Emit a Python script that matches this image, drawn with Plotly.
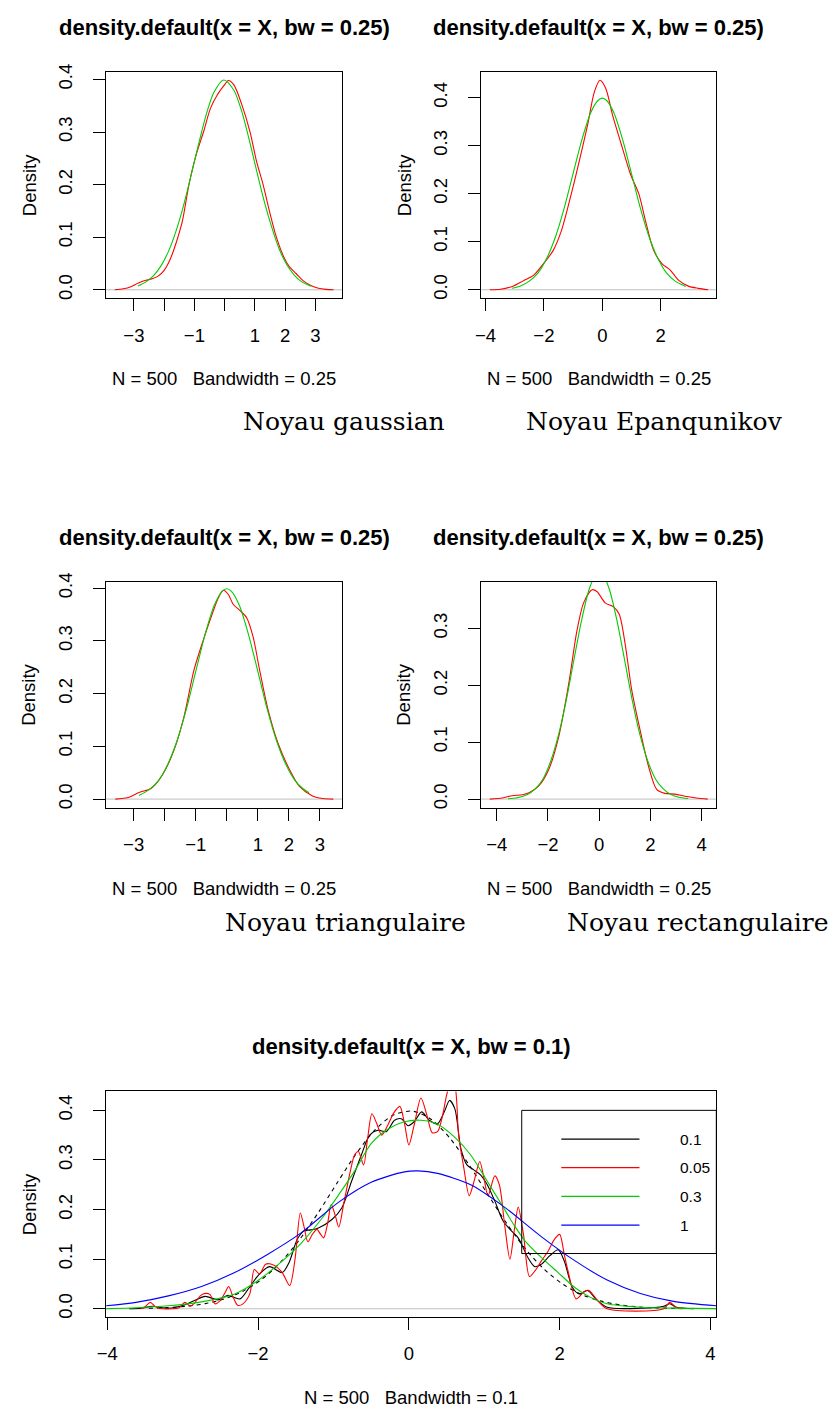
import plotly.graph_objects as go

# ---------------- data ----------------
# Panel 1 : gaussian kernel (red) and normal density (green)
p1_red_x = [-3.63, -3.35, -3.1, -2.85, -2.6, -2.4, -2.2, -2.0, -1.8, -1.6, -1.4, -1.18, -0.95, -0.7, -0.47, -0.25, 0.0, 0.12, 0.3, 0.55, 0.84, 1.05, 1.27, 1.5, 1.71, 1.95, 2.15, 2.36, 2.6, 2.85, 3.1, 3.35, 3.6]
p1_red_y = [0.0, 0.002, 0.006, 0.013, 0.018, 0.021, 0.026, 0.037, 0.058, 0.09, 0.13, 0.2, 0.255, 0.3, 0.345, 0.37, 0.39, 0.398, 0.39, 0.355, 0.3, 0.245, 0.2, 0.145, 0.1, 0.063, 0.043, 0.031, 0.017, 0.008, 0.003, 0.0008, 0.0]
p1_green_x = [-2.87, -2.6, -2.35, -2.1, -1.85, -1.6, -1.35, -1.1, -0.85, -0.6, -0.35, -0.03, 0.3, 0.55, 0.8, 1.05, 1.3, 1.55, 1.8, 2.05, 2.3, 2.55, 2.85]
p1_green_y = [0.007, 0.015, 0.027, 0.046, 0.074, 0.113, 0.162, 0.22, 0.28, 0.335, 0.376, 0.399, 0.38, 0.342, 0.288, 0.228, 0.17, 0.12, 0.078, 0.048, 0.028, 0.015, 0.007]

# Panel 2 : Epanechnikov kernel
p2_red_x = [-3.85, -3.49, -3.04, -2.7, -2.36, -2.02, -1.68, -1.4, -1.06, -0.78, -0.5, -0.27, -0.08, 0.12, 0.35, 0.69, 0.97, 1.25, 1.48, 1.76, 2.05, 2.33, 2.61, 2.95, 3.29, 3.63]
p2_red_y = [0.0, 0.001, 0.008, 0.019, 0.03, 0.054, 0.082, 0.123, 0.2, 0.27, 0.344, 0.412, 0.436, 0.419, 0.364, 0.295, 0.24, 0.2, 0.144, 0.082, 0.054, 0.041, 0.02, 0.0076, 0.003, 0.0]
p2_green_x = [-3.1, -2.8, -2.5, -2.2, -1.9, -1.6, -1.3, -1.0, -0.7, -0.4, -0.15, 0.0, 0.15, 0.4, 0.7, 1.0, 1.3, 1.6, 1.9, 2.2, 2.5, 2.86]
p2_green_y = [0.003, 0.008, 0.018, 0.035, 0.066, 0.111, 0.171, 0.242, 0.312, 0.368, 0.394, 0.399, 0.394, 0.368, 0.312, 0.242, 0.171, 0.111, 0.066, 0.035, 0.018, 0.007]

# Panel 3 : triangular kernel
p3_red_x = [-3.59, -3.18, -2.81, -2.44, -2.07, -1.7, -1.38, -1.06, -0.8, -0.53, -0.27, -0.11, 0.05, 0.21, 0.42, 0.64, 0.85, 1.06, 1.33, 1.65, 2.02, 2.34, 2.76, 3.08, 3.43]
p3_red_y = [0.0, 0.003, 0.013, 0.02, 0.046, 0.093, 0.156, 0.244, 0.294, 0.341, 0.382, 0.396, 0.388, 0.369, 0.358, 0.344, 0.307, 0.244, 0.169, 0.106, 0.056, 0.024, 0.006, 0.001, 0.0]
p3_green_x = [-2.83, -2.5, -2.2, -1.9, -1.6, -1.3, -1.0, -0.7, -0.4, -0.15, 0.0, 0.15, 0.4, 0.7, 1.0, 1.3, 1.6, 1.9, 2.2, 2.45, 2.65]
p3_green_y = [0.007, 0.018, 0.035, 0.066, 0.111, 0.171, 0.242, 0.312, 0.368, 0.394, 0.399, 0.394, 0.368, 0.312, 0.242, 0.171, 0.111, 0.066, 0.035, 0.02, 0.012]

# Panel 4 : rectangular kernel
p4_red_x = [-4.27, -3.78, -3.39, -3.0, -2.74, -2.36, -1.97, -1.58, -1.19, -0.87, -0.61, -0.28, -0.09, 0.23, 0.56, 0.78, 1.01, 1.27, 1.59, 1.92, 2.24, 2.56, 2.95, 3.34, 3.79, 4.23]
p4_red_y = [0.0, 0.002, 0.006, 0.0076, 0.011, 0.023, 0.052, 0.11, 0.203, 0.296, 0.345, 0.368, 0.365, 0.345, 0.338, 0.325, 0.273, 0.191, 0.122, 0.058, 0.017, 0.01, 0.0087, 0.005, 0.002, 0.0]
p4_green_x = [-3.56, -3.2, -2.8, -2.5, -2.2, -1.9, -1.6, -1.3, -1.0, -0.7, -0.4, -0.15, 0.0, 0.15, 0.4, 0.7, 1.0, 1.3, 1.6, 1.9, 2.2, 2.5, 2.8, 3.1, 3.47]
p4_green_y = [0.0007, 0.0024, 0.008, 0.018, 0.035, 0.066, 0.111, 0.171, 0.242, 0.312, 0.368, 0.394, 0.399, 0.394, 0.368, 0.312, 0.242, 0.171, 0.111, 0.066, 0.035, 0.018, 0.008, 0.0033, 0.001]

# Panel 5 : several bandwidths
p5_bw01_x = [-3.71, -3.55, -3.4, -3.19, -2.97, -2.85, -2.7, -2.53, -2.4, -2.24, -2.13, -2.0, -1.85, -1.68, -1.59, -1.48, -1.39, -1.3, -1.2, -1.02, -0.89, -0.76, -0.63, -0.52, -0.41, -0.3, -0.19, -0.1, -0.01, 0.07, 0.17, 0.27, 0.38, 0.47, 0.54, 0.61, 0.69, 0.77, 0.86, 0.95, 1.04, 1.14, 1.25, 1.36, 1.45, 1.58, 1.67, 1.76, 1.87, 1.98, 2.06, 2.17, 2.26, 2.37, 2.48, 2.63, 3.07, 3.38, 3.46, 3.55, 3.78]
p5_bw01_y = [0.0, 0.001, 0.005, 0.001, 0.008, 0.016, 0.025, 0.018, 0.027, 0.02, 0.04, 0.067, 0.085, 0.073, 0.093, 0.14, 0.157, 0.159, 0.163, 0.18, 0.203, 0.257, 0.31, 0.35, 0.36, 0.357, 0.38, 0.383, 0.369, 0.377, 0.397, 0.38, 0.373, 0.397, 0.42, 0.403, 0.323, 0.29, 0.28, 0.27, 0.25, 0.217, 0.177, 0.157, 0.143, 0.103, 0.085, 0.09, 0.107, 0.119, 0.097, 0.043, 0.03, 0.037, 0.02, 0.003, 0.001, 0.005, 0.01, 0.003, 0.0]
p5_bw005_x = [-3.56, -3.5, -3.43, -3.36, -3.3, -3.15, -3.05, -2.97, -2.9, -2.84, -2.76, -2.7, -2.64, -2.57, -2.5, -2.43, -2.39, -2.33, -2.27, -2.2, -2.11, -2.05, -1.98, -1.9, -1.79, -1.68, -1.58, -1.51, -1.44, -1.39, -1.34, -1.28, -1.22, -1.17, -1.13, -1.08, -1.03, -0.98, -0.93, -0.86, -0.78, -0.72, -0.67, -0.6, -0.55, -0.49, -0.43, -0.36, -0.28, -0.2, -0.12, -0.06, 0.0, 0.07, 0.16, 0.24, 0.31, 0.38, 0.44, 0.5, 0.55, 0.6, 0.66, 0.73, 0.8, 0.87, 0.94, 1.0, 1.05, 1.14, 1.2, 1.27, 1.34, 1.4, 1.45, 1.52, 1.6, 1.68, 1.76, 1.85, 1.93, 2.0, 2.06, 2.11, 2.22, 2.33, 2.39, 2.5, 2.63, 3.38, 3.46, 3.55, 3.63]
p5_bw005_y = [0.0, 0.004, 0.013, 0.004, 0.0005, 0.0, 0.002, 0.013, 0.005, 0.012, 0.027, 0.031, 0.029, 0.01, 0.017, 0.035, 0.045, 0.023, 0.007, 0.01, 0.03, 0.079, 0.07, 0.09, 0.088, 0.073, 0.047, 0.1, 0.193, 0.165, 0.135, 0.15, 0.16, 0.15, 0.143, 0.17, 0.21, 0.19, 0.165, 0.215, 0.275, 0.31, 0.317, 0.29, 0.34, 0.393, 0.375, 0.35, 0.37, 0.395, 0.408, 0.375, 0.33, 0.37, 0.425, 0.39, 0.355, 0.357, 0.385, 0.43, 0.455, 0.455, 0.35, 0.283, 0.228, 0.26, 0.297, 0.26, 0.228, 0.268, 0.25, 0.17, 0.1, 0.16, 0.205, 0.15, 0.065, 0.078, 0.097, 0.117, 0.14, 0.15, 0.11, 0.077, 0.02, 0.035, 0.037, 0.017, 0.0, 0.0, 0.013, 0.002, 0.0]
p5_bw03_x = [-4.02, -3.62, -3.19, -2.75, -2.31, -2.09, -1.87, -1.65, -1.43, -1.15, -0.93, -0.71, -0.5, -0.28, -0.06, 0.16, 0.38, 0.6, 0.82, 1.04, 1.25, 1.39, 1.54, 1.76, 1.98, 2.2, 2.41, 2.63, 3.07, 3.51, 4.08]
p5_bw03_y = [0.0003, 0.002, 0.006, 0.014, 0.03, 0.048, 0.072, 0.1, 0.132, 0.183, 0.23, 0.28, 0.333, 0.362, 0.377, 0.38, 0.372, 0.347, 0.31, 0.257, 0.205, 0.17, 0.137, 0.103, 0.073, 0.043, 0.023, 0.01, 0.003, 0.0013, 0.0003]
p5_bw1_x = [-4.02, -3.62, -3.19, -2.75, -2.31, -1.87, -1.43, -0.93, -0.5, -0.06, 0.12, 0.38, 0.82, 1.25, 1.76, 2.2, 2.63, 3.07, 3.51, 4.08]
p5_bw1_y = [0.006, 0.013, 0.026, 0.045, 0.073, 0.11, 0.153, 0.215, 0.255, 0.276, 0.278, 0.273, 0.25, 0.207, 0.145, 0.097, 0.058, 0.031, 0.015, 0.006]
p5_norm_x = [-3.45, -3.2, -2.95, -2.7, -2.45, -2.2, -1.95, -1.7, -1.45, -1.2, -0.95, -0.7, -0.45, -0.2, 0.05, 0.3, 0.55, 0.8, 1.05, 1.3, 1.55, 1.8, 2.05, 2.3, 2.55, 2.8, 3.05, 3.3, 3.55]
p5_norm_y = [0.001, 0.0024, 0.0051, 0.0104, 0.0198, 0.0355, 0.0596, 0.094, 0.1394, 0.1942, 0.254, 0.3123, 0.3605, 0.391, 0.3984, 0.3814, 0.3429, 0.2897, 0.2299, 0.1714, 0.12, 0.079, 0.0488, 0.0283, 0.0154, 0.0079, 0.0038, 0.0017, 0.0007]

# ticks and texts
tick_x_a = [-3, -2, -1, 0, 1, 2, 3]
tick_x_a_text = ["\u22123", "", "\u22121", "", "1", "2", "3"]
tick_x_b = [-4, -2, 0, 2]
tick_x_b_text = ["\u22124", "\u22122", "0", "2"]
tick_x_c = [-4, -2, 0, 2, 4]
tick_x_c_text = ["\u22124", "\u22122", "0", "2", "4"]
tick_y_04 = [0.0, 0.1, 0.2, 0.3, 0.4]
tick_y_04_text = ["0.0", "0.1", "0.2", "0.3", "0.4"]
tick_y_03 = [0.0, 0.1, 0.2, 0.3]
tick_y_03_text = ["0.0", "0.1", "0.2", "0.3"]

title_025 = "density.default(x = X, bw = 0.25)"
title_01 = "density.default(x = X, bw = 0.1)"
xlab_025 = "N = 500\u00a0\u00a0\u00a0Bandwidth = 0.25"
xlab_01 = "N = 500\u00a0\u00a0\u00a0Bandwidth = 0.1"
captions = ["Noyau gaussian", "Noyau Epanqunikov", "Noyau triangulaire", "Noyau rectangulaire"]
legend_labels = ["0.1", "0.05", "0.3", "1"]

# ---------------- layout geometry (pixels) ----------------
W, H = 838, 1411
def px(v):
    return v / W
def py(v):
    return 1 - v / H

RED, GREEN, BLUE, BLACK, GREY = "#FF0000", "#00CD00", "#0000FF", "#000000", "#BEBEBE"
SANS = "Liberation Sans, Arial, sans-serif"
SERIF = "DejaVu Serif, serif"

frames = {
    1: (98.3, 63.3, 337.0, 291.7),
    2: (477.3, 63.3, 715.0, 291.7),
    3: (98.3, 577.3, 336.7, 805.0),
    4: (477.3, 577.3, 715.0, 805.0),
    5: (98.3, 1091.0, 715.0, 1318.3),
}
xranges = {1: [-3.914, 3.891], 2: [-4.15, 3.908], 3: [-3.883, 3.714], 4: [-4.607, 4.568], 5: [-4.014, 4.078]}
yranges = {1: [-0.0164, 0.4145], 2: [-0.018, 0.4537], 3: [-0.0164, 0.4121], 4: [-0.0152, 0.382], 5: [-0.0166, 0.438]}
xticks = {1: (tick_x_a, tick_x_a_text), 2: (tick_x_b, tick_x_b_text), 3: (tick_x_a, tick_x_a_text),
          4: (tick_x_c, tick_x_c_text), 5: (tick_x_c, tick_x_c_text)}
yticks = {1: (tick_y_04, tick_y_04_text), 2: (tick_y_04, tick_y_04_text), 3: (tick_y_04, tick_y_04_text),
          4: (tick_y_03, tick_y_03_text), 5: (tick_y_04, tick_y_04_text)}

fig = go.Figure()

def add_line(n, xs, ys, color, dash="solid", width=1.1):
    sfx = "" if n == 1 else str(n)
    fig.add_trace(go.Scatter(x=xs, y=ys, mode="lines", xaxis="x" + sfx, yaxis="y" + sfx,
                             line=dict(color=color, width=width, dash=dash, shape="spline", smoothing=0.8),
                             showlegend=False, hoverinfo="skip"))

add_line(1, p1_red_x, p1_red_y, RED)
add_line(1, p1_green_x, p1_green_y, GREEN)
add_line(2, p2_red_x, p2_red_y, RED)
add_line(2, p2_green_x, p2_green_y, GREEN)
add_line(3, p3_red_x, p3_red_y, RED)
add_line(3, p3_green_x, p3_green_y, GREEN)
add_line(4, p4_red_x, p4_red_y, RED)
add_line(4, p4_green_x, p4_green_y, GREEN)
add_line(5, p5_bw01_x, p5_bw01_y, BLACK)
add_line(5, p5_norm_x, p5_norm_y, BLACK, dash="4px,4px")
add_line(5, p5_bw005_x, p5_bw005_y, RED)
add_line(5, p5_bw03_x, p5_bw03_y, GREEN)
add_line(5, p5_bw1_x, p5_bw1_y, BLUE)

layout = dict(width=W, height=H, autosize=False, margin=dict(l=0, r=0, t=0, b=0),
              paper_bgcolor="white", plot_bgcolor="white", showlegend=False)
shapes = []
annotations = []

for n, (x0, y0, x1, y1) in frames.items():
    sfx = "" if n == 1 else str(n)
    common = dict(showline=True, mirror=True, linecolor=BLACK, linewidth=1, ticks="outside", ticklen=12,
                  tickwidth=1, tickcolor=BLACK, showgrid=False, zeroline=False, fixedrange=True,
                  tickfont=dict(family=SANS, size=18.5, color=BLACK), tickmode="array")
    layout["xaxis" + sfx] = dict(common, domain=[px(x0), px(x1)], range=xranges[n], anchor="y" + sfx,
                                 tickvals=xticks[n][0], ticktext=xticks[n][1], ticklabelstandoff=8)
    layout["yaxis" + sfx] = dict(common, domain=[py(y1), py(y0)], range=yranges[n], anchor="x" + sfx,
                                 tickvals=yticks[n][0], ticktext=yticks[n][1], tickangle=-90,
                                 ticklabelstandoff=14)
    shapes.append(dict(type="line", xref="x%s domain" % sfx, yref="y" + sfx, x0=0, x1=1, y0=0, y1=0,
                       line=dict(color=GREY, width=1), layer="below"))
    cx = (x0 + x1) / 2
    cy = (y0 + y1) / 2
    title = title_01 if n == 5 else title_025
    xlab = xlab_01 if n == 5 else xlab_025
    annotations.append(dict(text=title, x=px(cx), y=py(y0 - 45), xref="paper", yref="paper",
                            showarrow=False, xanchor="center", yanchor="middle",
                            font=dict(family=SANS, size=22, color=BLACK, weight="bold")))
    annotations.append(dict(text=xlab, x=px(cx), y=py(y1 + 81), xref="paper", yref="paper",
                            showarrow=False, xanchor="center", yanchor="middle",
                            font=dict(family=SANS, size=18.5, color=BLACK)))
    annotations.append(dict(text="Density", x=px(x0 - 78), y=py(cy), xref="paper", yref="paper",
                            showarrow=False, xanchor="center", yanchor="middle", textangle=-90,
                            font=dict(family=SANS, size=18.5, color=BLACK)))

# captions
cap_pos = [(339, 416), (652.6, 416), (340, 921), (696, 921)]
for text, (cx, cy) in zip(captions, cap_pos):
    annotations.append(dict(text=text, x=px(cx), y=py(cy), xref="paper", yref="paper", showarrow=False,
                            xanchor="center", yanchor="middle",
                            font=dict(family=SERIF, size=25, color=BLACK)))

# legend of panel 5
shapes.append(dict(type="rect", xref="paper", yref="paper", x0=px(518.3), x1=px(715), y0=py(1254.3), y1=py(1110),
                   line=dict(color=BLACK, width=1), fillcolor="rgba(0,0,0,0)"))
legend_colors = [BLACK, RED, GREEN, BLUE]
legend_y = [1139, 1167.7, 1196.7, 1225.7]
for lab, col, ly in zip(legend_labels, legend_colors, legend_y):
    shapes.append(dict(type="line", xref="paper", yref="paper", x0=px(558.3), x1=px(637.3), y0=py(ly), y1=py(ly),
                       line=dict(color=col, width=1.1)))
    annotations.append(dict(text=lab, x=px(676.7), y=py(ly), xref="paper", yref="paper", showarrow=False,
                            xanchor="left", yanchor="middle", font=dict(family=SANS, size=15.5, color=BLACK)))

layout["shapes"] = shapes
layout["annotations"] = annotations
fig.update_layout(**layout)
fig.write_html("out.html", post_script="document.body.style.margin='0px';")
